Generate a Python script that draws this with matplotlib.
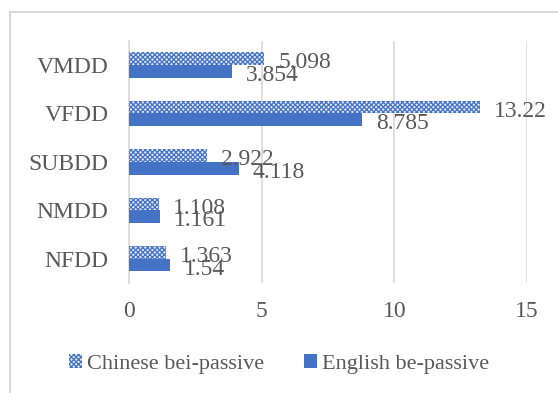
import matplotlib.pyplot as plt
from matplotlib.patches import Rectangle
import numpy as np

categories = ['NFDD', 'NMDD', 'SUBDD', 'VFDD', 'VMDD']
chinese = [1.363, 1.108, 2.922, 13.22, 5.098]
english = [1.54, 1.161, 4.118, 8.785, 3.854]
chinese_labels = ['1.363', '1.108', '2.922', '13.22', '5.098']
english_labels = ['1.54', '1.161', '4.118', '8.785', '3.854']
xticks = [0, 5, 10, 15]

plt.rcParams['font.family'] = ['Liberation Serif', 'DejaVu Serif']
plt.rcParams['hatch.linewidth'] = 0.9
grey = '#595959'
blue = '#4472C4'

fig = plt.figure(figsize=(5.58, 3.93), dpi=100)
ax = fig.add_axes([0.232, 0.280, 0.712, 0.616])

y = np.arange(len(categories))
h = 0.26
cb = ax.barh(y + h / 2, chinese, height=h, color='#dfe6f5', edgecolor=blue,
             hatch='xxxxxxx', linewidth=0, zorder=3, label='Chinese bei-passive')
eb = ax.barh(y - h / 2, english, height=h, color=blue, linewidth=0,
             zorder=3, label='English be-passive')

for yy, v, t in zip(y + h / 2, chinese, chinese_labels):
    ax.annotate(t, (v, yy), xytext=(10, -3), textcoords='offset points',
                va='center', ha='left', fontsize=17, color=grey, zorder=4)
for yy, v, t in zip(y - h / 2, english, english_labels):
    ax.annotate(t, (v, yy), xytext=(10, -3), textcoords='offset points',
                va='center', ha='left', fontsize=17, color=grey, zorder=4)

ax.set_xlim(0, 15)
ax.set_ylim(-0.5, len(categories) - 0.5)
ax.set_xticks(xticks)
ax.set_yticks(y)
ax.set_yticklabels(categories)
ax.tick_params(length=0, labelsize=17, labelcolor=grey)
ax.tick_params(axis='x', pad=13)
ax.tick_params(axis='y', pad=15)
ax.grid(axis='x', color='#d9d9d9', linewidth=1.2, zorder=0)
for s in ['top', 'right', 'bottom']:
    ax.spines[s].set_visible(False)
ax.spines['left'].set_color('#d9d9d9')
ax.spines['left'].set_linewidth(1.2)

leg = fig.legend(handles=[cb, eb], loc='center', bbox_to_anchor=(0.5, 0.074),
                 ncol=2, frameon=False, fontsize=16, handlelength=0.6,
                 handleheight=0.6, handletextpad=0.2, columnspacing=1.8)
for t in leg.get_texts():
    t.set_color(grey)

# chart frame
fig.add_artist(Rectangle((10 / 558, -0.2), 1.2, 0.2 + (1 - 12 / 393),
                         transform=fig.transFigure, fill=False,
                         edgecolor='#d9d9d9', linewidth=1.5))

fig.savefig('out.png', dpi=100)
